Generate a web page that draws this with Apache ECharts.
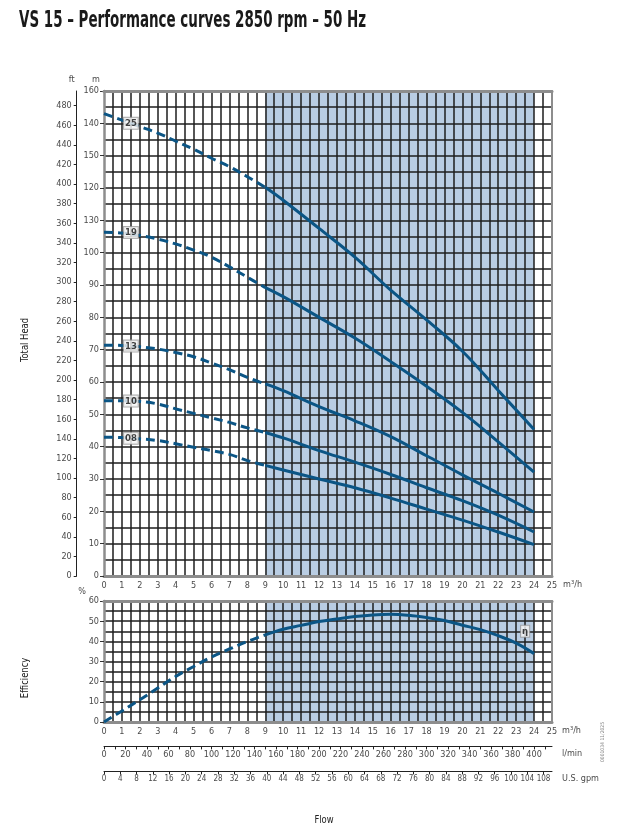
<!DOCTYPE html>
<html>
<head>
<meta charset="utf-8">
<title>VS 15 - Performance curves 2850 rpm - 50 Hz</title>
<script src="https://cdn.jsdelivr.net/npm/echarts@6/dist/echarts.min.js"></script>
<style>
html, body { margin: 0; padding: 0; background: #fff; }
#chart { width: 630px; height: 833px; }
</style>
</head>
<body>
<div id="chart"></div>
<script>
var FONT = "'Liberation Sans Narrow', 'DejaVu Sans Condensed', 'Roboto Condensed', 'Liberation Sans', sans-serif";

// flow in m3/h, dashed part 0-9, solid part 9-24
var flowDash = [0, 1, 2, 3, 4, 5, 6, 7, 8, 9];
var flowSolid = [9, 10, 12, 14, 16, 18, 20, 22, 24];

// total head in m
var head25Dash = [143, 141, 139, 137, 134.5, 132, 129.2, 126.6, 123.5, 120.2];
var head25Solid = [120.2, 116.2, 107.5, 98.6, 88.4, 79.2, 69.5, 57.4, 45.3];
var head19Dash = [106.3, 106.1, 105.3, 104.2, 102.7, 100.8, 98.6, 95.6, 92.4, 89.2];
var head19Solid = [89.2, 86.4, 80, 73.6, 66.3, 58.7, 50.6, 41.5, 32.1];
var head13Dash = [71.4, 71.3, 70.9, 70.2, 69.1, 67.8, 65.9, 63.8, 61.4, 59.4];
var head13Solid = [59.4, 57.3, 52.4, 48, 43.1, 37.2, 31.3, 25.6, 19.8];
var head10Dash = [54.2, 54.2, 54, 53.2, 51.7, 50.3, 48.9, 47.5, 45.8, 44.4];
var head10Solid = [44.4, 42.7, 38.8, 35.2, 31.4, 27.3, 23.3, 18.8, 13.6];
var head08Dash = [42.9, 42.8, 42.4, 41.9, 40.9, 39.8, 38.8, 37.6, 35.7, 34.2];
var head08Solid = [34.2, 32.8, 30, 27.3, 24.1, 20.7, 17.3, 13.6, 9.7];

var curveNames = ['25', '19', '13', '10', '08'];
var labelFlow = 1.5;
var labelHead = [140, 106.2, 71.1, 54.1, 42.6];

// efficiency in %
var effFlowDash = [0, 1, 2, 3, 4, 5, 6, 7, 8, 9];
var effDash = [0, 5.5, 11, 16.8, 22.6, 27.5, 32.2, 36.2, 39.9, 43.2];
var effFlowSolid = [9, 10, 11, 12, 13, 14, 15, 16, 17, 18, 19, 20, 21, 22, 23, 24];
var effSolid = [43.2, 46, 47.9, 49.8, 51.1, 52.3, 53.1, 53.4, 52.9, 51.8, 50.3, 48, 45.8, 42.8, 39.1, 33.9];
var effLabel = [23.5, 45];

// working range (shaded)
var rangeFrom = 9, rangeTo = 24;

// printed labels of the m axis (0..150 step 10)
var headTickLabels = ['0', '10', '20', '30', '40', '50', '60', '70', '80', '90', '100', '130', '120', '150', '140', '160'];

var LPM_PER_M3H = 16.667;
var GPM_PER_M3H = 4.403;

var CURVE = '#0b5585';
var GRIDC = '#1e1e1e';
var BORDER = '#8d8d8d';
var SHADE = '#b9cde3';

var chart = echarts.init(document.getElementById('chart'), null, {renderer: 'canvas'});

function pts(xs, ys) {
    return xs.map(function (x, i) { return [x, ys[i]]; });
}

var labelFont = {fontFamily: FONT, fontSize: 9, color: '#4a4a4a'};
var splitLine = {show: true, showMinLine: false, showMaxLine: false, lineStyle: {color: GRIDC, width: 1.5}};
var minorSplit = {show: true, lineStyle: {color: GRIDC, width: 1.5}};

function flowAxis(grid, name) {
    return {
        gridIndex: grid, type: 'value', min: 0, max: 25, interval: 1, z: 5,
        axisLine: {show: true, onZero: false, lineStyle: {color: BORDER, width: 3}},
        axisTick: {show: false},
        axisLabel: Object.assign({margin: 5}, labelFont),
        splitLine: splitLine,
        minorTick: {show: false, splitNumber: 2},
        minorSplitLine: minorSplit,
        name: name, nameLocation: 'end', nameGap: 10,
        nameTextStyle: Object.assign({verticalAlign: 'top', padding: [4, 0, 0, 0]}, labelFont)
    };
}

function topBorder(grid) {
    return {
        gridIndex: grid, type: 'value', position: 'top', min: 0, max: 25, z: 6,
        axisLine: {show: true, onZero: false, lineStyle: {color: BORDER, width: 3}},
        axisTick: {show: false}, axisLabel: {show: false}, splitLine: {show: false}
    };
}

function rightBorder(grid, max) {
    return {
        gridIndex: grid, type: 'value', position: 'right', min: 0, max: max, z: 6,
        axisLine: {show: true, onZero: false, lineStyle: {color: BORDER, width: 2}},
        axisTick: {show: false}, axisLabel: {show: false}, splitLine: {show: false}
    };
}

function unitAxis(name, offset, max, interval, every, size) {
    return {
        gridIndex: 1, type: 'value', position: 'bottom', offset: offset,
        min: 0, max: max, interval: interval,
        axisLine: {show: true, onZero: false, lineStyle: {color: '#222', width: 1}},
        axisTick: {show: true, length: 3, lineStyle: {color: '#222', width: 1}},
        axisLabel: Object.assign({}, labelFont, {margin: 4, fontSize: size, showMaxLabel: false, formatter: function (v) {
            return Math.abs(v % every) < 1e-6 ? String(v) : '';
        }}),
        splitLine: {show: false},
        name: name, nameLocation: 'end', nameGap: 10,
        nameTextStyle: Object.assign({verticalAlign: 'top', padding: [3, 0, 0, 0]}, labelFont)
    };
}

var series = [];

// shaded working range, one per grid
[[0, 0], [2, 3]].forEach(function (ax) {
    series.push({
        type: 'line', xAxisIndex: ax[0], yAxisIndex: ax[1], z: 1,
        data: [[rangeFrom, 0]], symbol: 'none', lineStyle: {opacity: 0},
        silent: true,
        markArea: {
            silent: true,
            itemStyle: {color: SHADE, opacity: 1},
            data: [[{xAxis: rangeFrom}, {xAxis: rangeTo}]]
        }
    });
});

function curve(xs, ys, xi, yi, dashed) {
    return {
        type: 'line', xAxisIndex: xi, yAxisIndex: yi, z: 10,
        data: pts(xs, ys), smooth: 0.4, symbol: 'none', silent: true,
        lineStyle: {color: CURVE, width: 3, type: dashed ? [9, 5] : 'solid', cap: 'butt'}
    };
}

var headDash = [head25Dash, head19Dash, head13Dash, head10Dash, head08Dash];
var headSolid = [head25Solid, head19Solid, head13Solid, head10Solid, head08Solid];
for (var i = 0; i < curveNames.length; i++) {
    series.push(curve(flowDash, headDash[i], 0, 0, true));
    series.push(curve(flowSolid, headSolid[i], 0, 0, false));
}
series.push(curve(effFlowDash, effDash, 2, 3, true));
series.push(curve(effFlowSolid, effSolid, 2, 3, false));

var boxLabel = {
    show: true, position: 'inside', formatter: '{b}',
    backgroundColor: '#f7f7f7', borderColor: '#9a9a9a', borderWidth: 1,
    padding: [1, 1, 0, 1], fontFamily: FONT, fontWeight: 'bold', fontSize: 9.5, color: '#111'
};

series.push({
    type: 'scatter', xAxisIndex: 0, yAxisIndex: 0, z: 12, silent: true,
    symbolSize: 2, itemStyle: {color: 'rgba(0,0,0,0)'}, label: boxLabel,
    data: curveNames.map(function (n, i) { return {name: n, value: [labelFlow, labelHead[i]]}; })
});
series.push({
    type: 'scatter', xAxisIndex: 2, yAxisIndex: 3, z: 12, silent: true,
    symbolSize: 2, itemStyle: {color: 'rgba(0,0,0,0)'}, label: boxLabel,
    data: [{name: 'η', value: effLabel}]
});

function txt(s, x, y, size, rot, sx, color) {
    return {
        type: 'text', x: x, y: y, rotation: rot, scaleX: sx, z: 20,
        style: {text: s, font: size + 'px ' + FONT, fill: color, textAlign: 'center', textVerticalAlign: 'middle', align: 'center', verticalAlign: 'middle'}
    };
}

var option = {
    animation: false,
    backgroundColor: '#fff',
    grid: [
        {left: 104, right: 78, top: 91, bottom: 257},
        {left: 104, right: 78, top: 601, bottom: 111}
    ],
    xAxis: [
        flowAxis(0, 'm³/h'),
        topBorder(0),
        flowAxis(1, 'm³/h'),
        topBorder(1),
        unitAxis('l/min', 24.4, 25 * LPM_PER_M3H, 10, 20, 9),
        unitAxis('U.S. gpm', 49.4, 25 * GPM_PER_M3H, 4, 4, 8)
    ],
    yAxis: [
        {
            gridIndex: 0, type: 'value', min: 0, max: 150, interval: 10, z: 5,
            axisLine: {show: true, onZero: false, lineStyle: {color: BORDER, width: 2.5}},
            axisTick: {show: true, length: 4, lineStyle: {color: '#333', width: 1}},
            axisLabel: Object.assign({margin: 5, formatter: function (v) { return headTickLabels[Math.round(v / 10)]; }}, labelFont),
            splitLine: splitLine,
            minorTick: {show: false, splitNumber: 2},
            minorSplitLine: minorSplit,
            name: 'm', nameLocation: 'end', nameGap: 7,
            nameTextStyle: Object.assign({align: 'right', verticalAlign: 'bottom', padding: [0, 4, 0, 0]}, labelFont)
        },
        {
            gridIndex: 0, type: 'value', position: 'left', offset: 27.3, min: 0, max: 495, interval: 20,
            axisLine: {show: true, onZero: false, lineStyle: {color: '#222', width: 1}},
            axisTick: {show: true, length: 3, lineStyle: {color: '#222', width: 1}},
            axisLabel: Object.assign({margin: 5, showMaxLabel: false, formatter: function (v) {
                return v % 20 === 0 ? String(v) : '';
            }}, labelFont),
            splitLine: {show: false},
            name: 'ft', nameLocation: 'end', nameGap: 7,
            nameTextStyle: Object.assign({align: 'right', verticalAlign: 'bottom', padding: [0, 2, 0, 0]}, labelFont)
        },
        rightBorder(0, 150),
        {
            gridIndex: 1, type: 'value', min: 0, max: 60, interval: 10, z: 5,
            axisLine: {show: true, onZero: false, lineStyle: {color: BORDER, width: 2.5}},
            axisTick: {show: true, length: 4, lineStyle: {color: '#333', width: 1}},
            axisLabel: Object.assign({margin: 5}, labelFont),
            splitLine: splitLine,
            minorTick: {show: false, splitNumber: 2},
            minorSplitLine: minorSplit,
            name: '%', nameLocation: 'end', nameGap: 2,
            nameTextStyle: Object.assign({align: 'right', verticalAlign: 'middle', padding: [0, 18, 0, 0]}, labelFont)
        },
        rightBorder(1, 60)
    ],
    graphic: [
        {
            type: 'text', x: 19, y: 21, scaleX: 0.65, z: 20,
            style: {text: 'VS 15 – Performance curves 2850 rpm – 50 Hz', font: 'bold 23px ' + FONT, fill: '#1a1a1a',
                    textAlign: 'left', textVerticalAlign: 'middle', align: 'left', verticalAlign: 'middle'}
        },
        txt('Total Head', 25, 340, 11, Math.PI / 2, 0.85, '#222'),
        txt('Efficiency', 25, 678, 11, Math.PI / 2, 0.85, '#222'),
        txt('Flow', 324, 820, 11, 0, 0.85, '#222'),
        txt('0001034 11/2025', 603, 742, 5, Math.PI / 2, 1, '#888')
    ],
    series: series
};

chart.setOption(option);
</script>
</body>
</html>
